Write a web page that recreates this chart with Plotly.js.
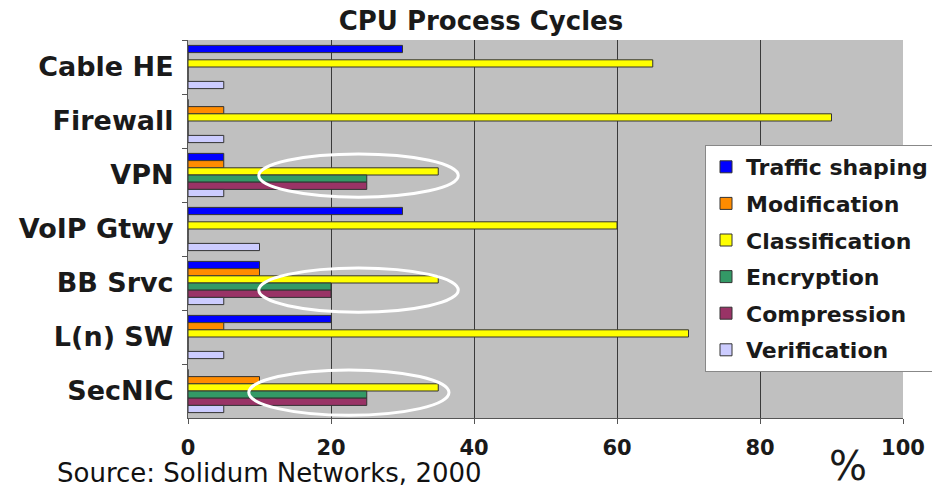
<!DOCTYPE html>
<html><head><meta charset="utf-8">
<script src="https://cdn.plot.ly/plotly-3.0.1.min.js"></script>
<style>html,body{margin:0;padding:0;background:#fff}#chart{width:932px;height:489px}</style>
</head><body><div id="chart"></div>
<script>
const categories = ["Cable HE","Firewall","VPN","VoIP Gtwy","BB Srvc","L(n) SW","SecNIC"];
const seriesNames = ["Traffic shaping","Modification","Classification","Encryption","Compression","Verification"];
const trafficShaping = [30, 0, 5, 30, 10, 20, 0];
const modification   = [0, 5, 5, 0, 10, 5, 10];
const classification = [65, 90, 35, 60, 35, 70, 35];
const encryption     = [0, 0, 25, 0, 20, 0, 25];
const compression    = [0, 0, 25, 0, 20, 0, 25];
const verification   = [5, 5, 5, 10, 5, 5, 5];
const xTicks = [0, 20, 40, 60, 80, 100];
const colors = ["#0000ff","#ff8c00","#ffff00","#339966","#993366","#ccccff"];
const allValues = [trafficShaping, modification, classification, encryption, compression, verification];

const FONT = 'DejaVu Sans, Verdana, sans-serif';

const traces = allValues.map((vals, i) => ({
  type: 'bar', orientation: 'h',
  name: seriesNames[i], y: categories, x: vals,
  marker: {color: colors[i], line: {color: '#333', width: 1}},
  legendgroup: 'g' + i, hoverinfo: 'x+y'
}));

function ellipse(x0, x1, yc, h) {
  return {type: 'circle', xref: 'x', yref: 'y', x0: x0, x1: x1, y0: yc - h, y1: yc + h,
          line: {color: '#ffffff', width: 3}, layer: 'above'};
}

const layout = {
  width: 932, height: 489,
  margin: {l: 188, r: 29, t: 40, b: 71, autoexpand: false},
  paper_bgcolor: '#ffffff', plot_bgcolor: '#c0c0c0',
  barmode: 'group', bargap: 0.2, bargroupgap: 0,
  showlegend: true,
  title: {text: 'CPU Process Cycles', x: 0.516, xref: 'container', y: 0.958, yref: 'container', yanchor: 'middle',
          font: {family: FONT, size: 26, weight: 'bold', color: '#1a1a1a'}},
  xaxis: {range: [0, 100], tickvals: xTicks, ticktext: xTicks.map(String),
          showgrid: true, gridcolor: '#3a3a3a', gridwidth: 1, zeroline: false,
          showline: true, linecolor: '#555', linewidth: 1,
          ticks: 'outside', ticklen: 5, tickcolor: '#555', ticklabelstandoff: 6,
          tickfont: {family: FONT, size: 21, weight: 'bold', color: '#1a1a1a'}},
  yaxis: {type: 'category', range: [6.5, -0.5], autorange: false, showgrid: false, zeroline: false,
          showline: true, linecolor: '#555', linewidth: 1,
          ticks: 'outside', ticklen: 5, tickcolor: '#555', tickson: 'boundaries', ticklabelstandoff: 8,
          tickfont: {family: FONT, size: 27, weight: 'bold', color: '#1a1a1a'}},
  legend: {x: (705 - 188) / 715, y: (418 - 145) / 378, xanchor: 'left', yanchor: 'top',
           bgcolor: '#ffffff', bordercolor: '#888', borderwidth: 1,
           traceorder: 'grouped', tracegroupgap: 5,
           font: {family: FONT, size: 22, weight: 'bold', color: '#1a1a1a'}},
  shapes: [ellipse(9.9, 37.8, 2.01, 0.40), ellipse(9.9, 37.8, 4.13, 0.41), ellipse(8.5, 36.5, 6.03, 0.42)],
  annotations: [
    {text: '%', xref: 'paper', yref: 'paper', x: (848 - 188) / 715, y: (418 - 466) / 378, xanchor: 'center', yanchor: 'middle', showarrow: false,
     font: {family: FONT, size: 40, color: '#1a1a1a'}},
    {text: 'Source: Solidum Networks, 2000', xref: 'paper', yref: 'paper', x: (55 - 188) / 715, y: (418 - 456) / 378, xanchor: 'left', yanchor: 'top', showarrow: false,
     font: {family: FONT, size: 26, color: '#111'}}
  ]
};

Plotly.newPlot('chart', traces, layout, {displayModeBar: false, staticPlot: true});
</script></body></html>
